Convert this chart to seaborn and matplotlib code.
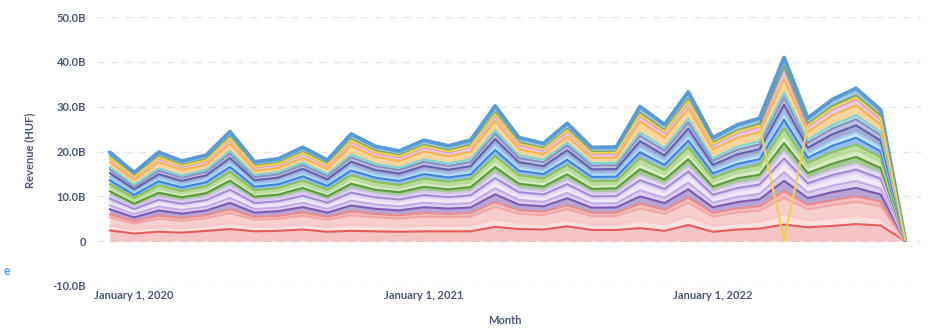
import numpy as np
import pandas as pd
import matplotlib
matplotlib.use("Agg")
import matplotlib.pyplot as plt
import matplotlib.dates as mdates
import matplotlib.ticker as mticker
import seaborn as sns

# Monthly revenue (billions of HUF) per product category, Dec 2019 – Sep 2022
months = pd.date_range("2019-12-01", "2022-09-01", freq="MS")

cat_01 = [2.40,1.70,2.10,1.90,2.30,2.70,2.20,2.30,2.60,2.10,2.30,2.20,2.10,2.20,2.20,2.20,3.20,2.70,2.60,3.30,2.50,2.50,2.90,2.30,3.60,2.10,2.60,2.80,3.70,3.10,3.40,3.80,3.50,0.05]
cat_02 = [1.10,0.85,1.10,1.00,1.07,1.35,0.98,1.02,1.16,1.01,1.33,1.18,1.12,1.25,1.18,1.25,1.75,1.28,1.22,1.45,1.17,1.17,1.67,1.44,1.95,1.28,1.44,1.52,2.20,1.53,1.75,1.90,1.63,0.01]
cat_03 = [1.80,1.39,1.80,1.63,1.75,2.22,1.61,1.67,1.90,1.65,2.17,1.93,1.83,2.04,1.93,2.04,2.73,2.10,1.99,2.38,1.91,1.91,2.73,2.36,3.02,2.10,2.36,2.49,3.75,2.50,2.87,3.10,2.67,0.02]
cat_04 = [0.70,0.54,0.70,0.63,0.68,0.86,0.63,0.65,0.74,0.64,0.84,0.75,0.71,0.80,0.75,0.80,1.06,0.82,0.77,0.93,0.74,0.74,1.06,0.92,1.17,0.82,0.92,0.97,1.46,0.97,1.12,1.21,1.04,0.01]
cat_05 = [1.12,0.82,1.15,0.98,1.04,1.40,0.95,1.05,1.20,0.98,1.30,1.15,1.10,1.28,1.20,1.22,1.70,1.25,1.18,1.50,1.15,1.20,1.62,1.48,1.80,1.25,1.40,1.55,2.35,1.50,1.80,1.85,1.60,0.01]
cat_06 = [0.90,0.70,0.90,0.81,0.87,1.11,0.80,0.83,0.95,0.82,1.09,0.96,0.91,1.02,0.96,1.02,1.37,1.05,1.00,1.19,0.95,0.95,1.37,1.18,1.51,1.05,1.18,1.24,1.88,1.25,1.43,1.55,1.33,0.01]
cat_07 = [1.00,0.77,1.00,0.91,0.97,1.23,0.89,0.93,1.06,0.92,1.21,1.07,1.02,1.14,1.07,1.14,1.52,1.17,1.11,1.32,1.06,1.06,1.52,1.31,1.68,1.17,1.31,1.38,2.09,1.39,1.59,1.72,1.48,0.01]
cat_08 = [0.50,0.39,0.50,0.45,0.49,0.62,0.45,0.46,0.53,0.46,0.60,0.54,0.51,0.57,0.54,0.57,0.76,0.58,0.55,0.66,0.53,0.53,0.76,0.66,0.84,0.58,0.66,0.69,1.04,0.69,0.80,0.86,0.74,0.01]
cat_09 = [0.72,0.52,0.68,0.65,0.70,0.88,0.60,0.66,0.76,0.62,0.86,0.73,0.70,0.82,0.74,0.78,1.08,0.80,0.79,0.95,0.72,0.76,1.04,0.94,1.15,0.80,0.94,0.95,1.50,0.99,1.10,1.23,1.02,0.01]
cat_10 = [0.92,0.68,0.88,0.83,0.85,1.13,0.82,0.81,0.97,0.80,1.11,0.94,0.93,1.00,0.98,1.04,1.35,1.07,0.98,1.21,0.93,0.97,1.39,1.16,1.53,1.03,1.20,1.22,1.90,1.27,1.41,1.57,1.31,0.01]
cat_11 = [0.88,0.72,0.92,0.79,0.89,1.09,0.78,0.85,0.93,0.84,1.07,0.98,0.89,1.04,0.94,1.00,1.39,1.03,1.02,1.17,0.97,0.93,1.35,1.20,1.49,1.07,1.16,1.26,1.86,1.23,1.45,1.53,1.35,0.01]
cat_12 = [0.68,0.56,0.72,0.61,0.66,0.84,0.65,0.63,0.72,0.66,0.82,0.77,0.72,0.78,0.76,0.82,1.04,0.84,0.75,0.91,0.76,0.72,1.08,0.90,1.19,0.84,0.90,0.99,1.42,0.95,1.14,1.19,1.06,0.01]
cat_13 = [0.90,0.70,0.90,0.81,0.87,1.15,0.80,0.83,0.95,0.82,1.09,0.96,0.91,1.02,0.96,1.02,1.40,1.05,1.00,1.19,0.95,0.95,1.37,1.18,1.51,1.05,1.18,1.24,1.95,1.25,1.43,1.55,1.33,0.01]
cat_14 = [0.70,0.54,0.70,0.63,0.68,0.86,0.63,0.65,0.74,0.64,0.84,0.75,0.71,0.80,0.75,0.80,1.06,0.82,0.77,0.93,0.74,0.74,1.06,0.92,1.17,0.82,0.92,0.97,1.46,0.97,1.12,1.21,1.04,0.01]
cat_15 = [0.91,0.69,0.89,0.82,0.86,1.12,0.79,0.84,0.94,0.83,1.10,0.95,0.92,1.01,0.97,1.03,1.36,1.06,0.99,1.20,0.94,0.96,1.38,1.17,1.52,1.04,1.19,1.23,1.89,1.24,1.44,1.54,1.34,0.01]
cat_16 = [0.80,0.62,0.80,0.72,0.78,0.98,0.72,0.74,0.84,0.73,0.96,0.86,0.81,0.91,0.86,0.91,1.21,0.93,0.88,1.06,0.85,0.85,1.21,1.05,1.34,0.93,1.05,1.11,1.67,1.11,1.27,1.38,1.19,0.01]
cat_17 = [0.52,0.37,0.48,0.46,0.50,0.60,0.46,0.47,0.51,0.47,0.62,0.52,0.52,0.56,0.55,0.58,0.74,0.59,0.56,0.64,0.54,0.52,0.78,0.64,0.86,0.57,0.67,0.68,1.06,0.70,0.78,0.88,0.72,0.01]
cat_18 = [1.10,1.01,1.40,1.27,1.07,1.60,0.93,0.94,1.09,1.11,1.92,1.55,1.46,1.78,1.55,1.78,2.11,1.38,1.22,1.32,1.17,1.17,2.41,2.29,2.28,1.98,1.99,2.04,3.00,1.76,2.17,2.24,1.63,0.01]
cat_19 = [0.78,0.64,0.82,0.70,0.80,0.96,0.74,0.72,0.86,0.71,0.98,0.84,0.83,0.89,0.88,0.93,1.19,0.95,0.86,1.08,0.83,0.87,1.19,1.07,1.32,0.95,1.03,1.13,2.25,1.09,1.29,1.36,1.21,0.01]
# no figure reported for this category in April 2022
cat_20 = [0.20,0.15,0.20,0.18,0.19,0.25,0.18,0.19,0.21,0.18,0.24,0.21,0.20,0.23,0.21,0.23,0.30,0.23,0.22,0.26,0.21,0.21,0.30,0.26,0.33,0.23,0.26,0.28,np.nan,0.28,0.32,0.34,0.30,0.01]
cat_21 = [0.30,0.23,0.30,0.27,0.29,0.37,0.27,0.28,0.32,0.27,0.36,0.32,0.30,0.34,0.32,0.34,0.46,0.35,0.33,0.40,0.32,0.32,0.46,0.39,0.50,0.35,0.39,0.41,0.63,0.42,0.48,0.52,0.44,0.01]
cat_22 = [0.90,0.70,0.90,0.81,0.87,1.11,0.80,0.83,0.95,0.82,1.09,0.96,0.91,1.02,0.96,1.02,1.37,1.05,1.00,1.19,0.95,0.95,1.37,1.18,1.51,1.05,1.18,1.24,1.88,1.25,1.43,1.55,1.33,0.01]

layers = [cat_01, cat_02, cat_03, cat_04, cat_05, cat_06, cat_07, cat_08, cat_09, cat_10, cat_11,
          cat_12, cat_13, cat_14, cat_15, cat_16, cat_17, cat_18, cat_19, cat_20, cat_21, cat_22]
colors = ["#E45C5C", "#F8C8C8", "#F2A6A6", "#EA8C8C", "#7D5BB3", "#C4AAE8", "#E3D8F5", "#A58BD5",
          "#D3C4EE", "#5B9A3A", "#B7DA96", "#8CC257", "#3D85D8", "#9DCCF4", "#5F63B0", "#8A8EC2",
          "#7FD3D3", "#F7B54F", "#D89BD6", "#F2D14B", "#7CAA68", "#5B9BD5"]
fill_alpha = [0.36] + [0.55] * 21

AXIS_TXT = "#4C5773"

sns.set_theme(style="white")
plt.rcParams["font.family"] = ["Lato", "DejaVu Sans"]

fig = plt.figure(figsize=(9.38, 3.28), dpi=100)
ax = fig.add_axes([97 / 938, 42 / 328, 824 / 938, 269 / 328])

base = np.zeros(len(months))
for i, (vals, col, a) in enumerate(zip(layers, colors, fill_alpha)):
    v = np.asarray(vals, dtype=float)
    top = base + np.nan_to_num(v)
    ax.fill_between(months, base, top, color=col, alpha=a, linewidth=0, zorder=1)
    line_y = np.where(np.isnan(v), 0.0, top)
    is_top = i == len(layers) - 1
    has_gap = np.isnan(v).any()
    sns.lineplot(x=months, y=line_y, color=col, linewidth=2.8 if is_top else 1.5,
                 estimator=None, sort=False, ax=ax,
                 zorder=6 if has_gap else 2 + i * 0.01)
    base = top

ax.set_ylim(-10, 50)
ax.set_yticks([-10, 0, 10, 20, 30, 40, 50])
ax.yaxis.set_major_formatter(mticker.FuncFormatter(lambda v, p: "0" if v == 0 else f"{v:.1f}B"))
ax.set_xlim(months[0] - pd.Timedelta(days=16), months[-1] + pd.Timedelta(days=20))
ax.set_xticks([pd.Timestamp("2020-01-01"), pd.Timestamp("2021-01-01"), pd.Timestamp("2022-01-01")])
ax.xaxis.set_major_formatter(mdates.DateFormatter("%B %-d, %Y"))

ax.yaxis.grid(True, color="#E3E5E9", linestyle=(0, (5, 5)), linewidth=1)
ax.xaxis.grid(False)
for s in ax.spines.values():
    s.set_visible(False)
ax.tick_params(axis="y", length=0, pad=8, labelsize=8, labelcolor=AXIS_TXT)
ax.tick_params(axis="x", length=0, pad=3, labelsize=8, labelcolor=AXIS_TXT)
for lab in ax.get_xticklabels() + ax.get_yticklabels():
    lab.set_fontweight("bold")
ax.set_xlabel("")
ax.set_ylabel("")

fig.text(30 / 938, 1 - 150 / 328, "Revenue (HUF)", rotation=90, ha="center", va="center",
         fontsize=8, fontweight="bold", color=AXIS_TXT)
fig.text(505 / 938, 1 - 321 / 328, "Month", ha="center", va="center",
         fontsize=8, fontweight="bold", color=AXIS_TXT)
fig.text(7 / 938, 1 - 271 / 328, "e", ha="center", va="center",
         fontsize=9, fontweight="bold", color="#509EE3")

fig.savefig("out.png", dpi=100, facecolor="white")
